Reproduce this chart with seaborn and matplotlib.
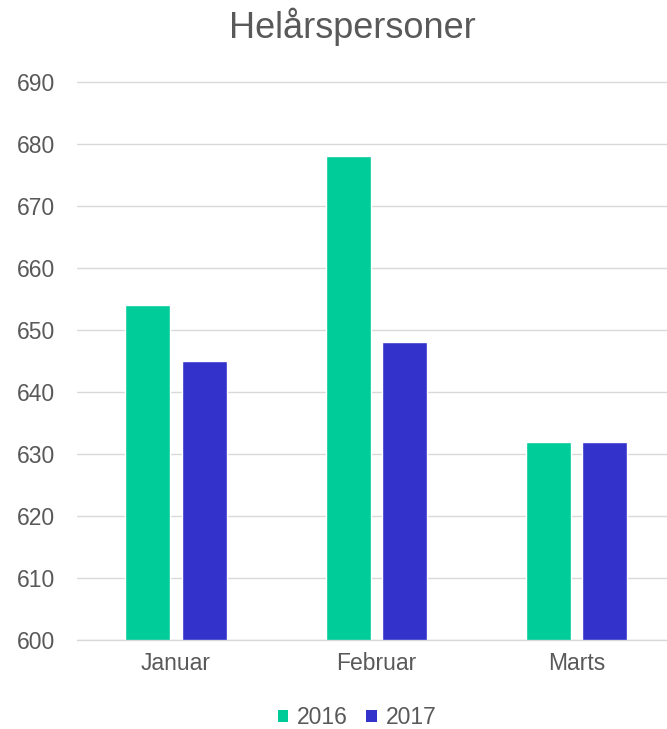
import matplotlib
matplotlib.use("Agg")
import matplotlib.pyplot as plt
import seaborn as sns
import pandas as pd
from matplotlib.patches import Patch

months = ["Januar", "Februar", "Marts"]
years = ["2016", "2017"]
values_2016 = [654, 678, 632]
values_2017 = [645, 648, 632]
y_ticks = [600, 610, 620, 630, 640, 650, 660, 670, 680, 690]
title = "Helårspersoner"

df = pd.DataFrame({
    "month": months * 2,
    "year": [years[0]] * 3 + [years[1]] * 3,
    "value": values_2016 + values_2017,
})

sns.set_theme(style="white")
plt.rcParams['font.family'] = ['Liberation Sans', 'DejaVu Sans']

colors = {"2016": "#00CC99", "2017": "#3333CC"}
fig = plt.figure(figsize=(6.67, 7.29), dpi=100)
ax = fig.add_axes([77/667, 1 - 640/729, 1 - 77/667, (640 - 78.9)/729])

sns.barplot(data=df, x="month", y="value", hue="year", palette=colors,
            width=0.56, gap=0.2, ax=ax, legend=False, saturation=1)

ax.set_ylim(600, 690.5)
ax.set_xlim(-0.494, 2.45)
ax.set_yticks(y_ticks)
ax.yaxis.grid(True, color="#D9D9D9", linewidth=1)
ax.set_axisbelow(True)
for s in ["top", "right", "left"]:
    ax.spines[s].set_visible(False)
ax.spines["bottom"].set_color("#D9D9D9")
ax.spines["bottom"].set_linewidth(1)
ax.tick_params(axis="y", length=0, pad=16, labelsize=16.5, labelcolor="#595959")
ax.tick_params(axis="x", length=0, pad=9, labelsize=16.5, labelcolor="#595959")
ax.set_xlabel("")
ax.set_ylabel("")

fig.text(352/667, 1 - 27/729, title, ha="center", va="center",
         fontsize=26, color="#595959")

handles = [Patch(facecolor=colors[y], edgecolor="none", label=y) for y in years]
fig.legend(handles=handles, loc="center", bbox_to_anchor=(357/667, 1 - 718/729),
           ncol=2, frameon=False, fontsize=16.5, handlelength=0.45, handleheight=0.45,
           handletextpad=0.4, columnspacing=0.8, labelcolor="#595959")

fig.savefig("out.png", dpi=100)
